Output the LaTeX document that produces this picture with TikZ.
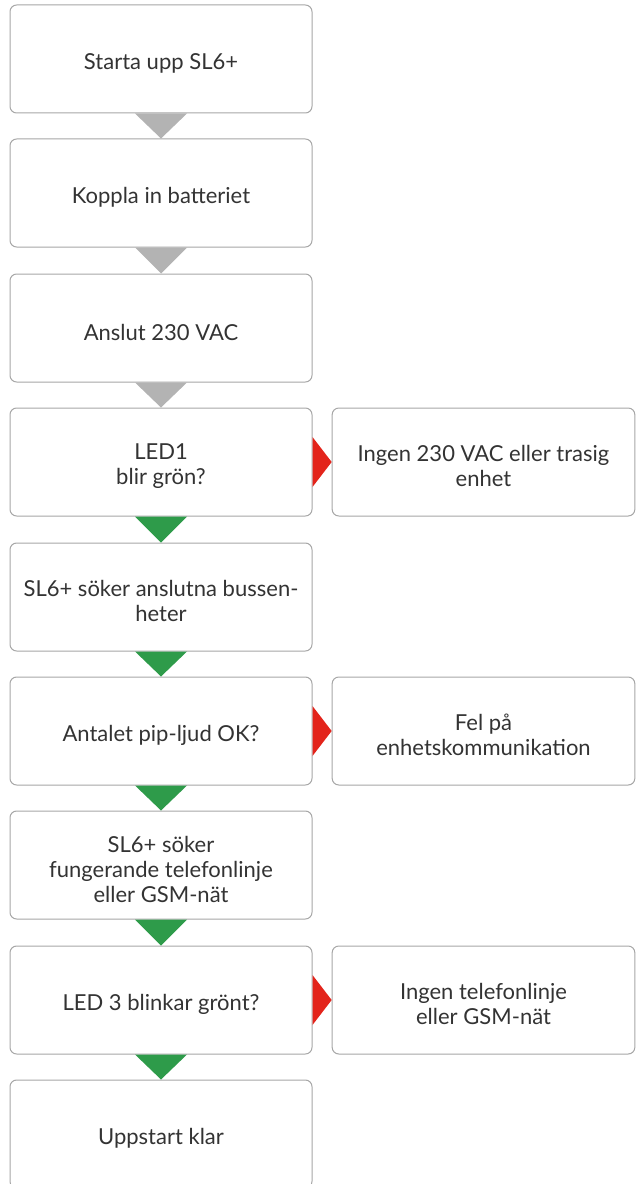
\documentclass[tikz,border=0pt]{standalone}
\usepackage{fontspec}
\setmainfont{Lato}
\usetikzlibrary{calc}
\definecolor{boxline}{HTML}{A6A6A6}
\definecolor{txt}{HTML}{333333}
\definecolor{arrgray}{HTML}{B3B3B3}
\definecolor{arrgreen}{HTML}{2E9B4A}
\definecolor{arrred}{HTML}{E3241B}
\tikzset{
  stepbox/.style={draw=boxline, line width=0.75pt, rounded corners=5pt, fill=white,
    minimum width=226.5pt, minimum height=81pt, inner sep=0pt},
  sidebox/.style={stepbox, minimum width=227pt},
  boxtext/.style={align=center, text=txt, font=\fontsize{16.5}{18.75}\selectfont,
    inner sep=0pt, yshift=-3pt},
  graytri/.style={fill=arrgray},
  greentri/.style={fill=arrgreen},
  redtri/.style={fill=arrred}
}
\begin{document}
\begin{tikzpicture}[x=0.75pt,y=-0.75pt]
\useasboundingbox (0,0) rectangle (638,1184);
\clip (0,0) rectangle (638,1184);
\node[stepbox, label={[boxtext]center:{Starta upp SL6+}}] (a) at (161,59) {};
\node[stepbox, label={[boxtext]center:{Koppla in batteriet}}] (b) at (161,193) {};
\node[stepbox, label={[boxtext]center:{Anslut 230 VAC}}] (c) at (161,328) {};
\node[stepbox, label={[boxtext]center:{LED1\\blir grön?}}] (d) at (161,462) {};
\node[stepbox, label={[boxtext]center:{SL6+ söker anslutna bussen-\\heter}}] (e) at (161,597) {};
\node[stepbox, label={[boxtext]center:{Antalet pip-ljud OK?}}] (f) at (161,731) {};
\node[stepbox, label={[boxtext]center:{SL6+ söker\\fungerande telefonlinje\\eller GSM-nät}}] (g) at (161,865) {};
\node[stepbox, label={[boxtext]center:{LED 3 blinkar grönt?}}] (h) at (161,1000) {};
\node[stepbox, label={[boxtext]center:{Uppstart klar}}] (i) at (161,1134) {};
\node[sidebox, label={[boxtext]center:{Ingen 230 VAC eller trasig\\enhet}}] (r1) at (483.5,462) {};
\node[sidebox, label={[boxtext]center:{Fel på\\enhetskommunikation}}] (r2) at (483.5,731) {};
\node[sidebox, label={[boxtext]center:{Ingen telefonlinje\\eller GSM-nät}}] (r3) at (483.5,1000) {};
\fill[graytri] ($(a.south)+(-26,0)$) -- ($(a.south)+(26,0)$) -- (b.north) -- cycle;
\fill[graytri] ($(b.south)+(-26,0)$) -- ($(b.south)+(26,0)$) -- (c.north) -- cycle;
\fill[graytri] ($(c.south)+(-26,0)$) -- ($(c.south)+(26,0)$) -- (d.north) -- cycle;
\fill[greentri] ($(d.south)+(-26,0)$) -- ($(d.south)+(26,0)$) -- (e.north) -- cycle;
\fill[greentri] ($(e.south)+(-26,0)$) -- ($(e.south)+(26,0)$) -- (f.north) -- cycle;
\fill[greentri] ($(f.south)+(-26,0)$) -- ($(f.south)+(26,0)$) -- (g.north) -- cycle;
\fill[greentri] ($(g.south)+(-26,0)$) -- ($(g.south)+(26,0)$) -- (h.north) -- cycle;
\fill[greentri] ($(h.south)+(-26,0)$) -- ($(h.south)+(26,0)$) -- (i.north) -- cycle;
\fill[redtri] ($(d.east)+(0,-25)$) -- ($(d.east)+(0,25)$) -- (r1.west) -- cycle;
\fill[redtri] ($(f.east)+(0,-25)$) -- ($(f.east)+(0,25)$) -- (r2.west) -- cycle;
\fill[redtri] ($(h.east)+(0,-25)$) -- ($(h.east)+(0,25)$) -- (r3.west) -- cycle;
\end{tikzpicture}
\end{document}
